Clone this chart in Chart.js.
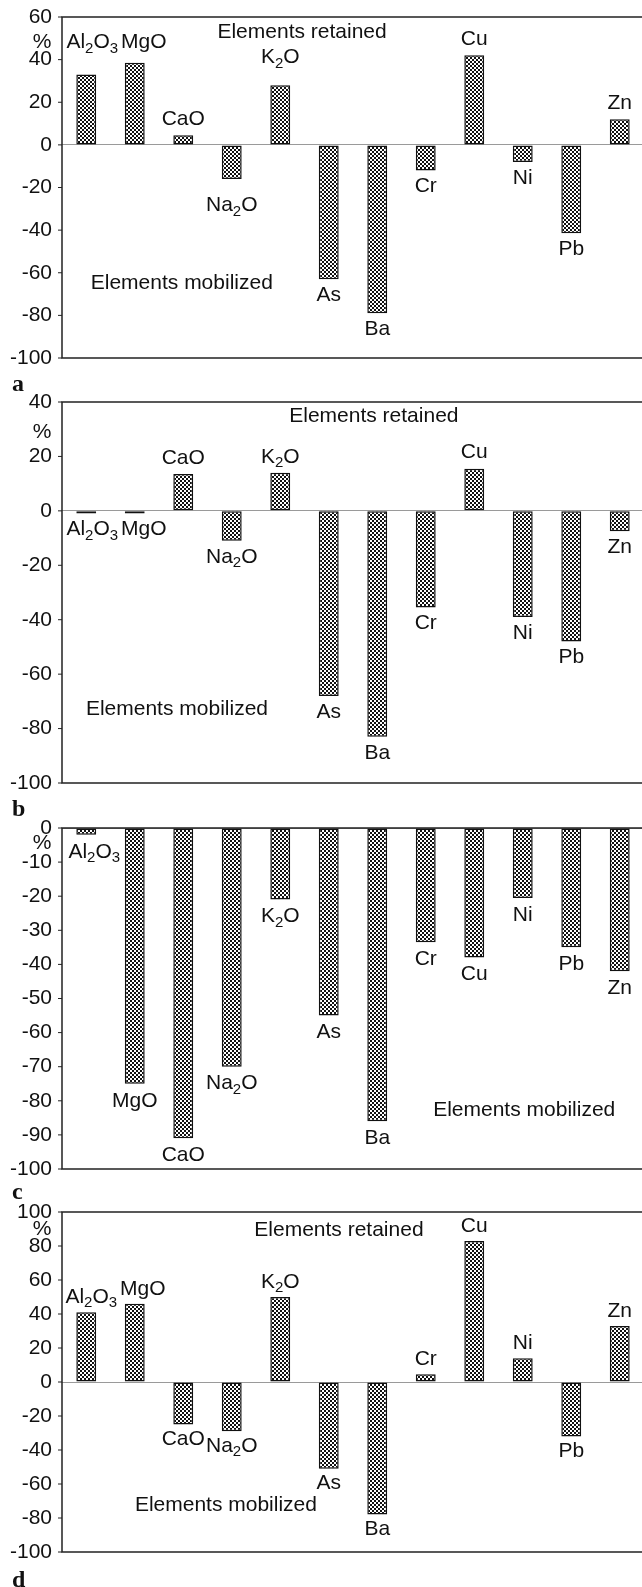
<!DOCTYPE html>
<html>
<head>
<meta charset="utf-8">
<script src="https://cdn.jsdelivr.net/npm/chart.js@4.4.1/dist/chart.umd.min.js"></script>
<style>
  html, body { margin: 0; padding: 0; background: #fff; overflow: hidden; }
  body { width: 642px; height: 1587px; position: relative; }
  canvas { position: absolute; left: 0; }
  .tag { position: absolute; left: 12px; font: bold 24px "Liberation Serif", "Times New Roman", serif; line-height: 24px; color: #111; }
</style>
</head>
<body>
<canvas id="chartA" width="646" height="369" style="top:3px"></canvas>
<canvas id="chartB" width="646" height="409" style="top:388px"></canvas>
<canvas id="chartC" width="646" height="369" style="top:814px"></canvas>
<canvas id="chartD" width="646" height="368" style="top:1198px"></canvas>
<div class="tag" style="top:371px">a</div>
<div class="tag" style="top:796px">b</div>
<div class="tag" style="top:1179px">c</div>
<div class="tag" style="top:1567px">d</div>

<script>
// categories, same order in all four panels
const categories = ['Al2O3', 'MgO', 'CaO', 'Na2O', 'K2O', 'As', 'Ba', 'Cr', 'Cu', 'Ni', 'Pb', 'Zn'];

// % change per panel
const valuesA = [33, 38.5, 4.5, -16, 28, -63, -79, -12, 42, -8, -41.5, 12];
const valuesB = [-1, -1, 13.5, -11, 14, -68, -83, -35.5, 15.5, -39, -48, -7.5];
const valuesC = [-2, -75, -91, -70, -21, -55, -86, -33.5, -38, -20.5, -35, -42];
const valuesD = [41, 46, -25, -29, 50, -51, -78, 4.5, 83, 14, -32, 33];

// y axis ranges [min, max, step]
const axisA = [-100, 60, 20];
const axisB = [-100, 40, 20];
const axisC = [-100, 0, 10];
const axisD = [-100, 100, 20];

const FONT = '"Liberation Sans", Arial, Helvetica, sans-serif';
const INK = '#111';

function checker() {
  const c = document.createElement('canvas');
  c.width = 4; c.height = 4;
  const g = c.getContext('2d');
  g.fillStyle = '#fff';
  g.fillRect(0, 0, 4, 4);
  g.fillStyle = '#111';
  g.fillRect(0, 0, 2, 2);
  g.fillRect(2, 2, 2, 2);
  return g.createPattern(c, 'repeat');
}

// draws e.g. Al2O3 with digits as subscripts, centred on cx
function drawChem(ctx, text, cx, cy) {
  const parts = text.match(/[A-Za-z]+|\d+/g);
  const big = '21px ' + FONT, small = '15px ' + FONT;
  let w = 0;
  parts.forEach(p => { ctx.font = /\d/.test(p) ? small : big; w += ctx.measureText(p).width; });
  let x = cx - w / 2;
  ctx.textAlign = 'left';
  ctx.textBaseline = 'middle';
  parts.forEach(p => {
    const sub = /\d/.test(p);
    ctx.font = sub ? small : big;
    ctx.fillText(p, x, sub ? cy + 6 : cy);
    x += ctx.measureText(p).width;
  });
}

const panelDecor = {
  id: 'panelDecor',
  afterDraw(chart, args, opts) {
    const { ctx, chartArea: a, scales: { x, y } } = chart;
    ctx.save();

    // frame: top, left, bottom (no right edge)
    ctx.strokeStyle = '#222';
    ctx.lineWidth = 1.5;
    ctx.beginPath();
    ctx.moveTo(a.right + 2, a.top);
    ctx.lineTo(a.left, a.top);
    ctx.lineTo(a.left, a.bottom);
    ctx.lineTo(a.right + 2, a.bottom);
    ctx.stroke();

    // small outward ticks
    ctx.lineWidth = 1;
    y.ticks.forEach(t => {
      const py = y.getPixelForValue(t.value);
      ctx.beginPath();
      ctx.moveTo(a.left - 4, py);
      ctx.lineTo(a.left, py);
      ctx.stroke();
    });

    ctx.fillStyle = INK;
    ctx.font = '21px ' + FONT;
    ctx.textAlign = 'center';
    ctx.textBaseline = 'middle';
    ctx.fillText('%', 42, y.getPixelForValue(opts.pct));

    opts.notes.forEach(n => {
      ctx.font = '21px ' + FONT;
      ctx.textAlign = 'center';
      ctx.textBaseline = 'middle';
      ctx.fillText(n[0], x.getPixelForValue(n[1]), y.getPixelForValue(n[2]));
    });

    const meta = chart.getDatasetMeta(0);
    const vals = chart.data.datasets[0].data;
    meta.data.forEach((bar, i) => {
      let ly;
      if (opts.labelAt[i] !== undefined) ly = y.getPixelForValue(opts.labelAt[i]);
      else ly = vals[i] >= 0 ? bar.y - opts.gap : bar.y + opts.gap;
      drawChem(ctx, categories[i], bar.x + (opts.nudge[i] || 0), ly);
    });
    ctx.restore();
  }
};

function makePanel(id, values, axis, decor) {
  const ctx = document.getElementById(id).getContext('2d');
  return new Chart(ctx, {
    type: 'bar',
    data: {
      labels: categories,
      datasets: [{
        data: values,
        backgroundColor: checker(),
        borderColor: '#111',
        borderWidth: 1.5,
        borderSkipped: false,
        barPercentage: 0.41,
        categoryPercentage: 1
      }]
    },
    options: {
      animation: false,
      responsive: false,
      devicePixelRatio: 1,
      layout: { padding: { top: 14, bottom: 14, left: 0, right: 2 } },
      plugins: {
        legend: { display: false },
        tooltip: { enabled: false },
        panelDecor: decor
      },
      scales: {
        x: { display: false },
        y: {
          min: axis[0],
          max: axis[1],
          afterFit: s => { s.width = 62; s.paddingTop = 0; s.paddingBottom = 0; },
          border: { display: false },
          grid: {
            drawTicks: false,
            color: c => (c.tick && c.tick.value === 0 ? '#9a9a9a' : 'rgba(0,0,0,0)'),
            lineWidth: 1
          },
          ticks: {
            stepSize: axis[2],
            padding: 10,
            color: INK,
            font: { family: FONT, size: 21 }
          }
        }
      }
    },
    plugins: [panelDecor]
  });
}

makePanel('chartA', valuesA, axisA, {
  pct: 48, gap: 16,
  labelAt: { 0: 48, 1: 48, 3: -28.5, 4: 41 },
  nudge: { 0: 6, 1: 9 },
  notes: [['Elements retained', 4.45, 53], ['Elements mobilized', 1.97, -65]]
});
makePanel('chartB', valuesB, axisB, {
  pct: 29, gap: 16,
  labelAt: {},
  nudge: { 0: 6, 1: 9 },
  notes: [['Elements retained', 5.93, 34.6], ['Elements mobilized', 1.87, -72.8]]
});
makePanel('chartC', valuesC, axisC, {
  pct: -4.4, gap: 17,
  labelAt: {},
  nudge: { 0: 8 },
  notes: [['Elements mobilized', 9.03, -82.7]]
});
makePanel('chartD', valuesD, axisD, {
  pct: 90, gap: 15,
  labelAt: {},
  nudge: { 0: 5, 1: 8 },
  notes: [['Elements retained', 5.21, 89.4], ['Elements mobilized', 2.88, -72.4]]
});
</script>
</body>
</html>
